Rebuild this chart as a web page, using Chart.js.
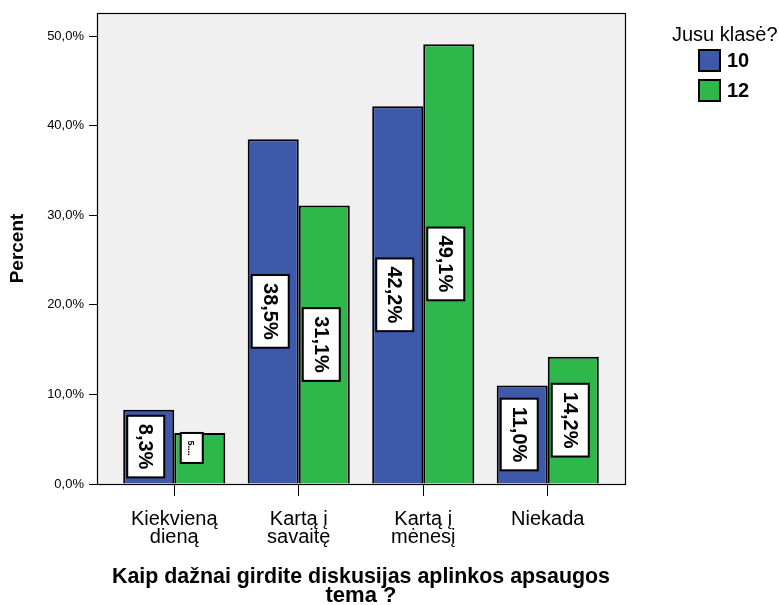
<!DOCTYPE html>
<html>
<head>
<meta charset="utf-8">
<script src="https://cdn.jsdelivr.net/npm/chart.js@4/dist/chart.umd.min.js"></script>
<style>
  html, body { margin: 0; padding: 0; background: #fff; }
</style>
</head>
<body>
<canvas id="chart" width="779" height="605"></canvas>
<script>
const categories = [["Kiekvieną", "dieną"], ["Kartą į", "savaitę"], ["Kartą į", "mėnesį"], ["Niekada"]];
const seriesNames = ["10", "12"];
const values10 = [8.3, 38.5, 42.2, 11.0];
const values12 = [5.7, 31.1, 49.1, 14.2];
const yTicks = [0, 10, 20, 30, 40, 50];
const colors = ["#3e58aa", "#2eb84b"];

const FONT = "'Liberation Sans', Arial, sans-serif";

function fmt(v) {
  return v.toFixed(1).replace(".", ",") + "%";
}

// frame with a bit of room left and right of the categories
const framePlugin = {
  id: "frame",
  beforeDatasetsDraw(chart) {
    const a = chart.chartArea;
    const ctx = chart.ctx;
    ctx.save();
    ctx.fillStyle = "#f0f0f0";
    ctx.fillRect(a.left - 15, a.top, a.width + 30, a.height);
    ctx.strokeStyle = "#000";
    ctx.lineWidth = 1.2;
    ctx.strokeRect(a.left - 15 + 0.5, a.top + 0.5, a.width + 30, a.height);
    ctx.restore();
  },
  afterDatasetsDraw(chart) {
    const ctx = chart.ctx;
    chart.data.datasets.forEach((ds, di) => {
      const meta = chart.getDatasetMeta(di);
      meta.data.forEach((bar, i) => {
        const text = fmt(ds.data[i]);
        const h = bar.base - bar.y;
        ctx.save();
        ctx.font = "bold 20px " + FONT;
        let tw = ctx.measureText(text).width;
        let bw = 37, bh = tw + 16;
        let cx = bar.x - 3, cy = (bar.y + bar.base) / 2;
        let label = text;
        if (bh > h - 6) {
          // too small: truncated label at the top of the bar
          label = text.charAt(0) + "....";
          ctx.font = "bold 9px " + FONT;
          bw = 22;
          bh = 30;
          cx = bar.x - 8;
          cy = bar.y + 15;
        }
        ctx.translate(cx, cy);
        ctx.rotate(Math.PI / 2);
        ctx.fillStyle = "#fff";
        ctx.fillRect(-bh / 2, -bw / 2, bh, bw);
        ctx.strokeStyle = "#000";
        ctx.lineWidth = 2;
        ctx.strokeRect(-bh / 2, -bw / 2, bh, bw);
        ctx.fillStyle = "#000";
        ctx.textAlign = "center";
        ctx.textBaseline = "middle";
        ctx.fillText(label, 0, 1);
        ctx.restore();
      });
    });
  },
  afterDraw(chart) {
    const ctx = chart.ctx;
    ctx.save();
    ctx.fillStyle = "#000";
    ctx.textBaseline = "middle";
    ctx.font = "20px " + FONT;
    ctx.fillText("Jusu klasė?", 672, 35);
    seriesNames.forEach((name, i) => {
      const y = 50 + i * 30;
      ctx.fillStyle = colors[i];
      ctx.fillRect(699, y, 21, 21);
      ctx.strokeStyle = "#000";
      ctx.lineWidth = 2;
      ctx.strokeRect(699, y, 21, 21);
      ctx.fillStyle = "#000";
      ctx.font = "bold 20px " + FONT;
      ctx.fillText(name, 727, y + 11);
    });
    ctx.restore();
  }
};

new Chart(document.getElementById("chart"), {
  type: "bar",
  data: {
    labels: categories,
    datasets: [
      { label: seriesNames[0], data: values10, backgroundColor: colors[0] },
      { label: seriesNames[1], data: values12, backgroundColor: colors[1] }
    ]
  },
  options: {
    responsive: false,
    devicePixelRatio: 1,
    animation: false,
    layout: { padding: { left: 3, top: 13, right: 169, bottom: 0 } },
    datasets: {
      bar: {
        categoryPercentage: 0.82,
        barPercentage: 1.0,
        borderColor: "#000",
        borderWidth: 2
      }
    },
    plugins: {
      legend: { display: false },
      tooltip: { enabled: false }
    },
    scales: {
      x: {
        afterFit(scale) { scale.height = 121; },
        grid: { offset: false, drawOnChartArea: false, tickLength: 12, color: "#000" },
        border: { display: false },
        ticks: {
          color: "#000",
          padding: 14,
          maxRotation: 0,
          font: { family: FONT, size: 20, lineHeight: "18px" }
        },
        title: {
          display: true,
          text: ["Kaip dažnai girdite diskusijas aplinkos apsaugos", "tema ?"],
          color: "#000",
          padding: { top: 0, bottom: 0 },
          font: { family: FONT, size: 22, weight: "bold", lineHeight: "19px" }
        }
      },
      y: {
        min: 0,
        max: 52.6,
        afterFit(scale) { scale.width = 109; },
        afterBuildTicks(scale) {
          scale.ticks = yTicks.map(v => ({ value: v }));
        },
        grid: { drawOnChartArea: false, tickLength: 23, color: "#000" },
        border: { display: false },
        ticks: {
          color: "#000",
          padding: 5,
          font: { family: FONT, size: 13 },
          callback: v => fmt(v)
        },
        title: {
          display: true,
          text: "Percent",
          color: "#000",
          padding: { top: 3, bottom: 0 },
          font: { family: FONT, size: 19, weight: "bold" }
        }
      }
    }
  },
  plugins: [framePlugin]
});
</script>
</body>
</html>
